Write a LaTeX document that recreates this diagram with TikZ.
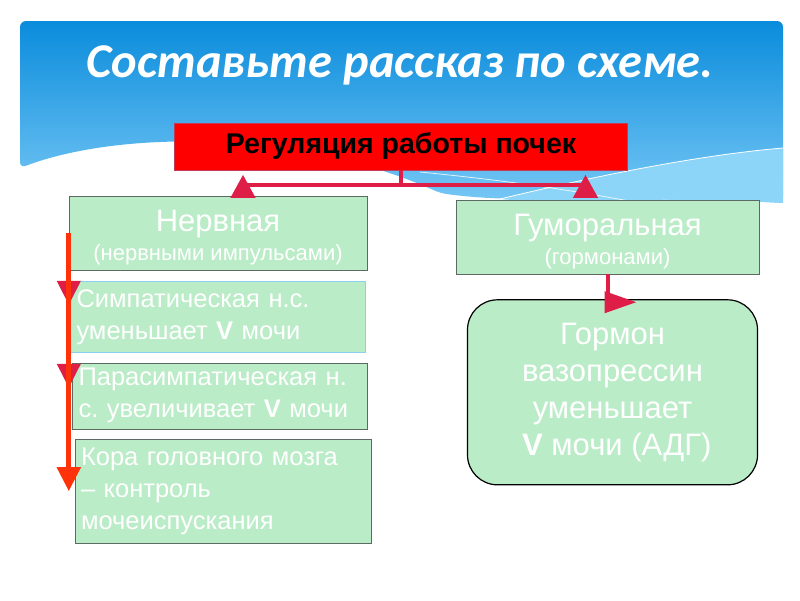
\documentclass[tikz,border=0pt]{standalone}
\usepackage{fontspec}
\setmainfont{Liberation Sans}
\newfontfamily\titlefont{Carlito}
\usepackage{xcolor}
\usetikzlibrary{arrows.meta, positioning, calc}
\frenchspacing

\definecolor{boxgreen}{RGB}{187,236,200}
\definecolor{boxedge}{RGB}{95,105,100}
\definecolor{edgeblue}{RGB}{140,208,240}
\definecolor{linkred}{RGB}{222,30,70}
\definecolor{arrowred}{RGB}{255,50,10}
\definecolor{skytop}{RGB}{10,140,220}
\definecolor{skybottom}{RGB}{120,200,245}
\definecolor{skylight}{RGB}{140,212,248}

\begin{document}
\begin{tikzpicture}[
    x=1pt, y=-1pt,
    headbox/.style={rectangle, draw=boxedge, fill=boxgreen, text=white, align=center, minimum width=298pt, minimum height=74pt, inner sep=0pt, text height=60pt, font=\fontsize{22}{29}\selectfont},
    sidebox/.style={rectangle, draw=boxedge, fill=boxgreen, text=white, align=left, inner xsep=6pt, inner ysep=0pt, font=\fontsize{25.5}{32}\selectfont},
    hormbox/.style={rectangle, draw=black, line width=1.2pt, rounded corners=30pt, fill=boxgreen, text=white, align=center, minimum width=290pt, minimum height=185pt, font=\fontsize{31}{37}\selectfont},
    link/.style={draw=linkred, line width=4pt, -{Triangle[length=23pt, width=24pt]}},
    down/.style={draw=linkred, line width=4pt, -{Triangle[length=24pt, width=23pt]}},
]
\useasboundingbox (0,0) rectangle (800,600);

% Background
\path[top color=skytop, bottom color=skybottom, rounded corners=6pt]
    (20,168) .. controls (120,130) and (300,130) .. (440,193)
    .. controls (520,205) and (650,195) .. (783,203) -- (783,21) -- (20,21) -- cycle;
\fill[skylight] (500,199) .. controls (600,175) and (700,155) .. (783,148)
    -- (783,203) .. controls (650,195) and (560,205) .. cycle;
\draw[white, line width=0.8pt] (500,199) .. controls (600,175) and (700,155) .. (783,148);
\draw[white, line width=0.8pt, opacity=0.8] (420,172) .. controls (500,180) and (560,188) .. (640,203);

\node[text=white, font=\titlefont\bfseries\itshape\fontsize{48.5}{52}\selectfont, anchor=base] (title) at (400,77) {Составьте рассказ по схеме.};

% Nodes
\node[rectangle, draw=linkred!70!gray, fill=red, minimum width=453pt, minimum height=47pt, font=\bfseries\fontsize{28.5}{30}\selectfont] (reg) at (401,146.5) {Регуляция работы почек};

\node[headbox] (nerv) at (218,233) {{\fontsize{31}{31}\selectfont Нервная}\\(нервными импульсами)};
\node[headbox, minimum width=303pt] (gum) at (607.5,237) {{\fontsize{31}{31}\selectfont Гуморальная}\\(гормонами)};

\node[sidebox, draw=edgeblue, text width=283pt, minimum height=71pt, below=11pt of nerv] (symp) {Симпатическая н.с.\\уменьшает \textbf{V} мочи};
\node[sidebox, text width=283pt, minimum height=66pt, below=10pt of symp, xshift=2pt] (para) {Парасимпатическая н.\\с. увеличивает \textbf{V} мочи};
\node[sidebox, text width=284pt, minimum height=104pt, below=10pt of para, xshift=3pt] (kora) {Кора головного мозга\\– контроль\\мочеиспускания};

\node[hormbox, below=25pt of gum, xshift=5pt] (horm) {Гормон\\вазопрессин\\уменьшает\\\ \textbf{V} мочи (АДГ)};

% Arrows
\coordinate (split) at ($(reg.south)+(0,-15pt)$);
\draw[link] (reg.south) -- (split) -| ([xshift=25pt, yshift=21pt]nerv.north);
\draw[link] (split) -| ([xshift=-22pt, yshift=25pt]gum.north);
\draw[link, -{Triangle[length=32pt, width=21pt]}] (gum.south) |- ([xshift=24pt, yshift=-3pt]horm.north);

\draw[down] (nerv.west) -- ([yshift=12pt]nerv.west |- symp.west);
\draw[down] (nerv.west) -- ([yshift=8pt]nerv.west |- para.west);
\draw[down, draw=arrowred, line width=5pt] (nerv.west) -- (nerv.west |- kora.west);

\end{tikzpicture}
\end{document}
